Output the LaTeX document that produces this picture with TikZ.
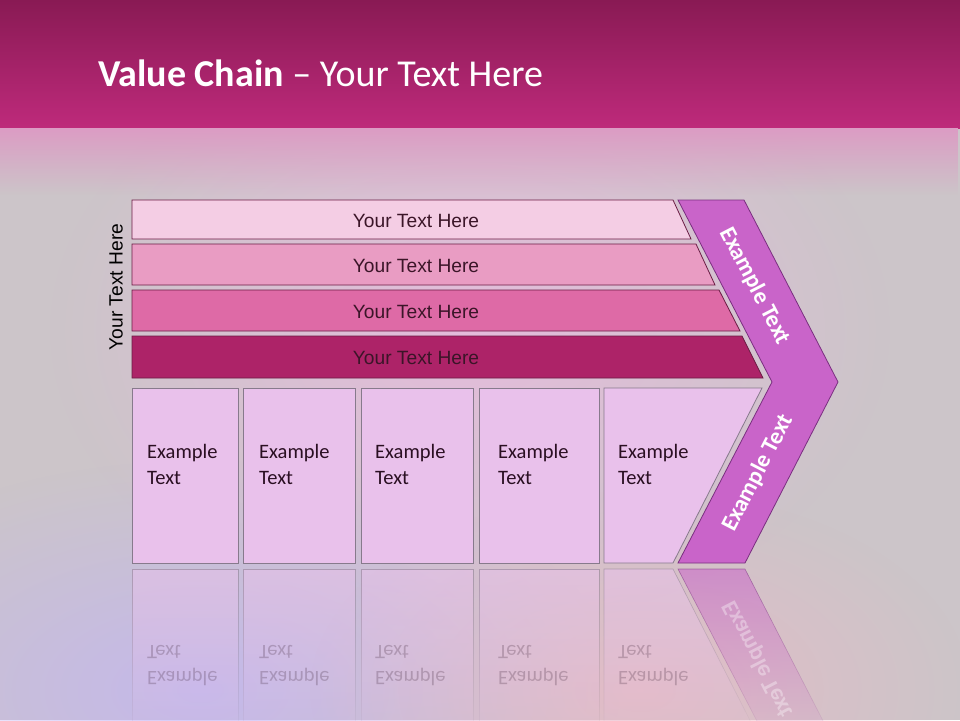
\documentclass[tikz,border=0pt]{standalone}
\usepackage{fontspec}
\setmainfont{Carlito}
\newfontfamily\barfont{Liberation Sans}
\usetikzlibrary{positioning,fadings}

\definecolor{bggray}{HTML}{CCC5C9}
\definecolor{bandtop}{HTML}{891A54}
\definecolor{bandbot}{HTML}{BE2A7B}
\definecolor{bandfade}{HTML}{DC9CC4}
\definecolor{glowpink}{HTML}{EDB9E2}
\definecolor{glowlav}{HTML}{C2B4F6}
\definecolor{glowrose}{HTML}{EBB9C6}
\definecolor{barA}{HTML}{F4CDE4}
\definecolor{barB}{HTML}{E99CC3}
\definecolor{barC}{HTML}{DE6AA6}
\definecolor{barD}{HTML}{AD2368}
\definecolor{barline}{HTML}{6B1D45}
\definecolor{bartext}{HTML}{3B1528}
\definecolor{cellfill}{HTML}{E9C1EB}
\definecolor{cellline}{HTML}{877A8C}
\definecolor{celltext}{HTML}{2A0F22}
\definecolor{chevfill}{HTML}{C964C9}
\definecolor{chevline}{HTML}{7A2F80}

\tikzfading[name=fade down, top color=transparent!45, bottom color=transparent!100]
\tikzfading[name=glow fade, inner color=transparent!25, outer color=transparent!100]
\tikzfading[name=band fade, top color=transparent!0, bottom color=transparent!100]

\begin{document}
\begin{tikzpicture}[
	  x=1pt, y=-1pt,
	  % style for the four long bars
	  bar/.style={draw=barline, line width=0.8pt},
	  bartxt/.style={text=bartext, inner sep=0pt, font=\barfont\fontsize{19.2}{22}\selectfont},
	  % style for the small boxes
	  cell/.style={draw=cellline, fill=cellfill, line width=0.8pt},
	  celltxt/.style={text=celltext, anchor=north west, align=left, inner sep=0pt, font=\fontsize{20.5}{26}\selectfont},
	  % style for the arrow on the right
	  chev/.style={draw=chevline, fill=chevfill, line width=0.8pt},
	  chevtxt/.style={text=white, inner sep=0pt, font=\bfseries\fontsize{23.5}{26}\selectfont},
	  % reflections under the boxes
	  refl/.style={path fading=fade down, line width=0.6pt},
	  refltxt/.style={celltxt, text opacity=0.22}]

      \useasboundingbox (0,0) rectangle (960,720);

      %background
      \fill[bggray] (0,0) rectangle (960,720);
      \fill[glowpink, path fading=glow fade] (470,330) ellipse (420 and 300);
      \fill[glowlav, path fading=glow fade] (200,690) ellipse (420 and 230);
      \fill[glowrose, path fading=glow fade] (640,690) ellipse (330 and 200);
      \shade[top color=bandtop, bottom color=bandbot] (0,0) rectangle (960,128);
      \fill[bandfade, path fading=band fade] (0,128) rectangle (960,195);

      %title
      \node[anchor=base west, text=white, inner sep=0pt, font=\fontsize{38}{42}\selectfont] (title) at (98,86) {\textbf{Value Chain} – Your Text Here};

      %bars
      \foreach \t/\b/\p/\q/\c [count=\i] in {200/239/673/691/barA, 244/285/696/715/barB, 290/331/719/740/barC, 336/378/742/763/barD} {
        \filldraw[bar, fill=\c] (132,\t) -- (\p,\t) -- (\q,\b) -- (132,\b) -- cycle;
        \node[bartxt] (bar\i) at (416,{(\t+\b)/2+1}) {Your Text Here};
      }
      \node[bartxt, text=black, rotate=90] (side) at (116,287) {Your Text Here};

      %boxes
      \foreach \l/\r/\x [count=\i] in {132/238/147, 243/355/259, 361/473/375, 479/599/498} {
        \draw[cell] (\l,388) rectangle (\r,563);
        \node[celltxt] (cell\i) at (\x,444) {Example\\Text};
      }
      \draw[cell] (604,388) -- (762,388) -- (673,563) -- (604,563) -- cycle;
      \node[celltxt] (cell5) at (618,444) {Example\\Text};

      %chevron
      \filldraw[chev] (678,200) -- (744,200) -- (838,382) -- (745,563) -- (678,563) -- (772,382) -- cycle;
      \node[chevtxt, rotate=-62.7] (chevup) at (755,286) {Example Text};
      \node[chevtxt, rotate=62.7] (chevdown) at (758,473) {Example Text};

      %reflections
      \foreach \l/\r/\x [count=\i] in {132/238/147, 243/355/259, 361/473/375, 479/599/498} {
        \filldraw[refl, draw=cellline, fill=cellfill] (\l,569) rectangle (\r,744);
        \node[refltxt, yscale=-1] (mirror\i) at (\x,686) {Example\\Text};
      }
      \filldraw[refl, draw=cellline, fill=cellfill] (604,569) -- (673,569) -- (762,744) -- (604,744) -- cycle;
      \node[refltxt, yscale=-1] (mirror5) at (618,686) {Example\\Text};
      \filldraw[refl, draw=chevline, fill=chevfill] (678,569) -- (745,569) -- (838,750) -- (772,750) -- cycle;
      \node[chevtxt, text opacity=0.35, rotate=-62.7, yscale=-1] (chevmirror) at (758,659) {Example Text};
\end{tikzpicture}
\end{document}
